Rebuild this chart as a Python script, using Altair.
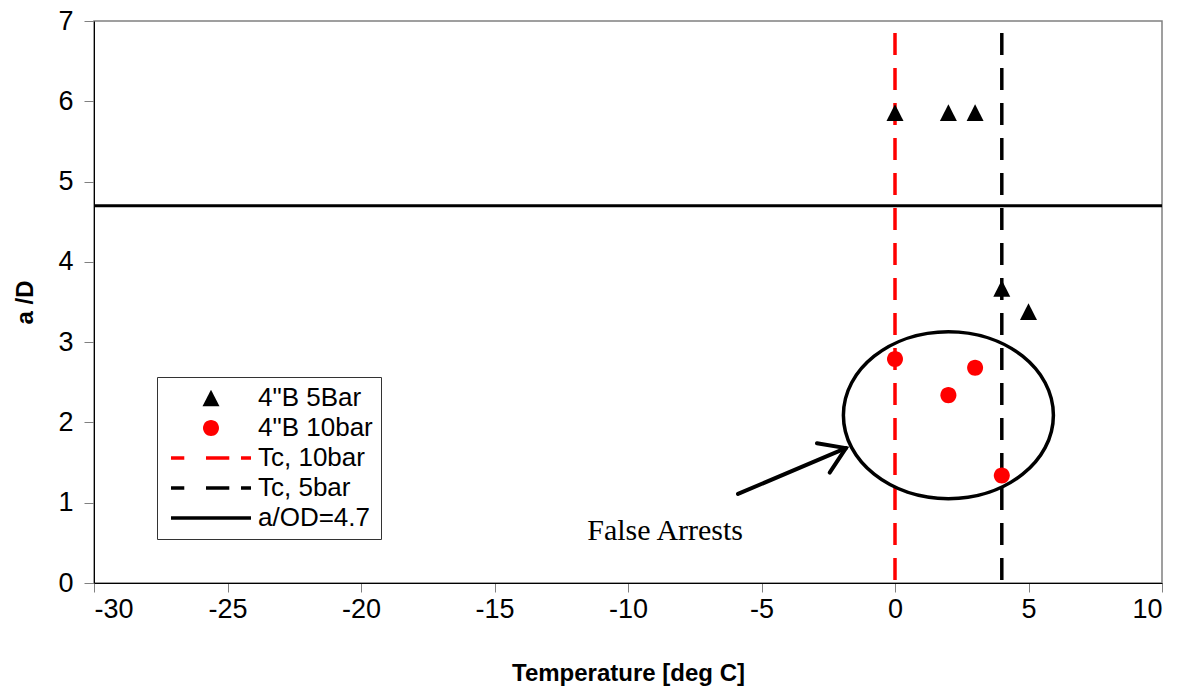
import altair as alt
import pandas as pd

# ---- data ----
series_labels = ['4"B 5Bar', '4"B 10bar', 'Tc, 10bar', 'Tc, 5bar', 'a/OD=4.7']

tri_T = [0, 2, 3, 4, 5]
tri_aD = [5.86, 5.86, 5.86, 3.67, 3.38]

cir_T = [0, 2, 3, 4]
cir_aD = [2.79, 2.34, 2.68, 1.34]

tc_10bar = [0]
tc_5bar = [4]
threshold = [4.7]

ellipse_center_T = [2.0]
ellipse_center_aD = [2.09]

arrow_tail_T = [-5.88]
arrow_tail_aD = [1.11]
arrow_head_T = [-1.84]
arrow_head_aD = [1.68]

note_T = [-8.61]
note_aD = [0.65]
note_text = ["False Arrests"]

x_ticks = [-30, -25, -20, -15, -10, -5, 0, 5, 10]
y_ticks = [0, 1, 2, 3, 4, 5, 6, 7]

# ---- tables ----
pts = pd.DataFrame({
    "T": tri_T + cir_T,
    "aD": tri_aD + cir_aD,
    "series": [series_labels[0]] * len(tri_T) + [series_labels[1]] * len(cir_T),
})

# symbol shapes (unit box, drawn at size 7744 -> 44 px per unit)
tri_path = "M 0 -0.19 L 0.193 0.19 L -0.193 0.19 Z"
circ_path = "M -0.182 0 A 0.182 0.182 0 1 0 0.182 0 A 0.182 0.182 0 1 0 -0.182 0 Z"
dash_path = "M -0.909 0 L -0.607 0 M -0.114 0 L 0.416 0 M 0.682 0 L 0.909 0"
solid_path = "M -0.909 0 L 0.909 0"

shape_range = [tri_path, circ_path, dash_path, dash_path, solid_path]
fill_range = ["black", "red", "transparent", "transparent", "transparent"]
stroke_range = ["transparent", "transparent", "red", "black", "black"]

FONT = "Liberation Sans"
hyphen_label = "datum.value < 0 ? '-' + abs(datum.value) : '' + datum.value"

xscale = alt.Scale(domain=[-30, 10], nice=False, zero=False)
yscale = alt.Scale(domain=[0, 7], nice=False, zero=False)

xaxis = alt.Axis(values=x_ticks, title="Temperature [deg C]", grid=False,
                 labelExpr=hyphen_label,
                 tickSize=9, tickColor="#808080", domainColor="black",
                 labelFont=FONT, labelFontSize=27, labelColor="black", labelPadding=4,
                 titleFont=FONT, titleFontSize=24, titleFontWeight="bold",
                 titleColor="black", titlePadding=39)
yaxis = alt.Axis(values=y_ticks, title="a /D", grid=False,
                 labelExpr=hyphen_label,
                 tickSize=10, tickColor="#808080", domainColor="black",
                 labelFont=FONT, labelFontSize=27, labelColor="black", labelPadding=11,
                 titleFont=FONT, titleFontSize=24, titleFontWeight="bold",
                 titleColor="black", titlePadding=20)

legend = alt.Legend(title=None, orient="none", legendX=63, legendY=356,
                    padding=8, strokeColor="#333", fillColor="white",
                    labelFont=FONT, labelFontSize=26, labelColor="black",
                    symbolSize=7744, symbolStrokeWidth=3.5, symbolOpacity=1,
                    labelOffset=1, rowPadding=4, clipHeight=26)

base_x = alt.X("T:Q", scale=xscale, axis=xaxis)
base_y = alt.Y("aD:Q", scale=yscale, axis=yaxis)

# vertical Tc lines
tc10 = alt.Chart(pd.DataFrame({"T": tc_10bar})).mark_rule(
    color="red", strokeWidth=3.5, strokeDash=[22, 13], strokeDashOffset=23
).encode(x=base_x)
tc5 = alt.Chart(pd.DataFrame({"T": tc_5bar})).mark_rule(
    color="black", strokeWidth=3.5, strokeDash=[22, 13], strokeDashOffset=23
).encode(x=base_x)

# horizontal a/OD line
hline = alt.Chart(pd.DataFrame({"aD": threshold})).mark_rule(
    color="black", strokeWidth=3
).encode(y=base_y)

# data points with the combined legend
points = alt.Chart(pts).mark_point(filled=True, size=7744, opacity=1, strokeWidth=3.5).encode(
    x=base_x, y=base_y,
    fill=alt.Fill("series:N", scale=alt.Scale(domain=series_labels, range=fill_range), legend=legend),
    stroke=alt.Stroke("series:N", scale=alt.Scale(domain=series_labels, range=stroke_range), legend=legend),
    shape=alt.Shape("series:N", scale=alt.Scale(domain=series_labels, range=shape_range), legend=legend),
)

# ellipse annotation
ellipse_path = "M -1 0 A 1 0.795 0 1 0 1 0 A 1 0.795 0 1 0 -1 0 Z"
ellipse = alt.Chart(pd.DataFrame({"T": ellipse_center_T, "aD": ellipse_center_aD})).mark_point(
    shape=ellipse_path, size=44100, filled=False, stroke="black", strokeWidth=3.5, opacity=1
).encode(x=base_x, y=base_y)

# arrow
arrow_df = pd.DataFrame({"T": arrow_tail_T, "aD": arrow_tail_aD,
                         "T2": arrow_head_T, "aD2": arrow_head_aD})
arrow_line = alt.Chart(arrow_df).mark_rule(color="black", strokeWidth=4, strokeCap="round").encode(
    x=base_x, y=base_y, x2="T2:Q", y2="aD2:Q")
head_df = pd.DataFrame({"T": arrow_head_T, "aD": arrow_head_aD})
arrow_head = alt.Chart(head_df).mark_point(
    shape="M -1 -0.65 L 0 0 L -1 0.65", size=2420, angle=336.5, filled=False,
    stroke="black", strokeWidth=4, opacity=1, strokeCap="round", strokeJoin="miter"
).encode(x=base_x, y=base_y)

note = alt.Chart(pd.DataFrame({"T": note_T, "aD": note_aD, "txt": note_text})).mark_text(
    font="Liberation Serif", fontSize=30, color="black", align="center", baseline="middle"
).encode(x=base_x, y=base_y, text="txt:N")

chart = alt.layer(
    hline, tc10, tc5, ellipse, arrow_line, arrow_head, note, points
).properties(
    width=1068, height=562,
    autosize=alt.AutoSizeParams(type="none"),
    padding={"left": 86, "top": 13, "right": 10, "bottom": 108},
).configure_view(
    stroke="#808080", strokeWidth=1.5
)

chart.save("out.html", embed_options={"renderer": "svg", "actions": False})
